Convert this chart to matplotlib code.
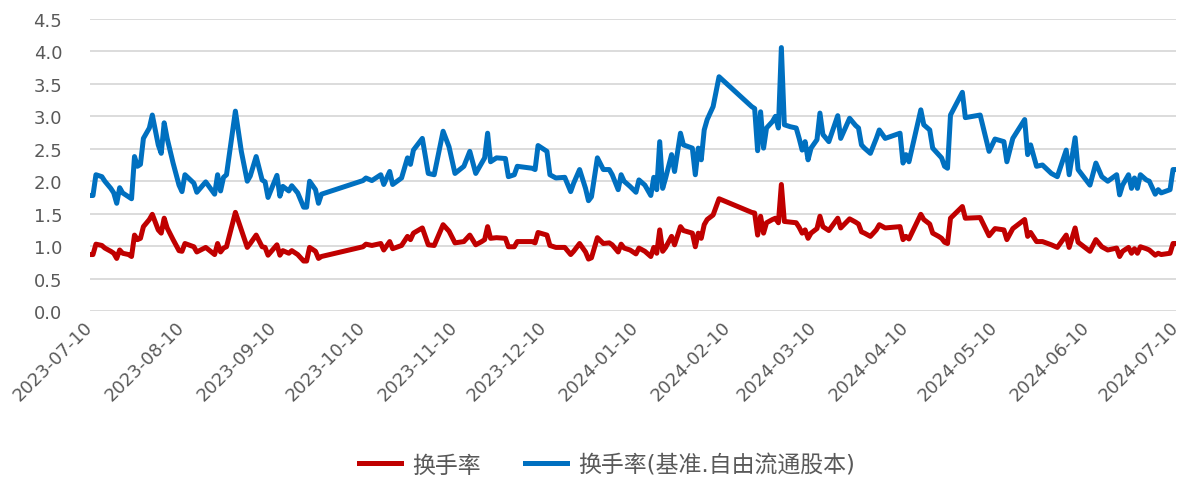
import matplotlib.pyplot as plt
import matplotlib.dates as mdates
import numpy as np
import pandas as pd
from matplotlib.ticker import FormatStrFormatter

# 交易日(只保留折线拐点)
dates = [
    '2023-07-10', '2023-07-11', '2023-07-12', '2023-07-14', '2023-07-15', '2023-07-17', '2023-07-18',
    '2023-07-19', '2023-07-20', '2023-07-21', '2023-07-23', '2023-07-24', '2023-07-25', '2023-07-26',
    '2023-07-27', '2023-07-28', '2023-07-30', '2023-07-31', '2023-08-02', '2023-08-03', '2023-08-04',
    '2023-08-05', '2023-08-07', '2023-08-09', '2023-08-10', '2023-08-11', '2023-08-14', '2023-08-15',
    '2023-08-18', '2023-08-21', '2023-08-22', '2023-08-23', '2023-08-24', '2023-08-25', '2023-08-28',
    '2023-08-30', '2023-09-01', '2023-09-02', '2023-09-04', '2023-09-06', '2023-09-07', '2023-09-08',
    '2023-09-11', '2023-09-12', '2023-09-13', '2023-09-15', '2023-09-16', '2023-09-18', '2023-09-20',
    '2023-09-21', '2023-09-22', '2023-09-24', '2023-09-25', '2023-09-26',
    '2023-10-10', '2023-10-11', '2023-10-13', '2023-10-16', '2023-10-17', '2023-10-19', '2023-10-20',
    '2023-10-23', '2023-10-25', '2023-10-26', '2023-10-27', '2023-10-30', '2023-11-01', '2023-11-03',
    '2023-11-06', '2023-11-08', '2023-11-10', '2023-11-13', '2023-11-15', '2023-11-17', '2023-11-19',
    '2023-11-20', '2023-11-21', '2023-11-22', '2023-11-24', '2023-11-27', '2023-11-28', '2023-11-30',
    '2023-12-01', '2023-12-06', '2023-12-07', '2023-12-08', '2023-12-11', '2023-12-12', '2023-12-14',
    '2023-12-17', '2023-12-19', '2023-12-20', '2023-12-22', '2023-12-24', '2023-12-25', '2023-12-26',
    '2023-12-28', '2023-12-30', '2024-01-01', '2024-01-02', '2024-01-04', '2024-01-05', '2024-01-06',
    '2024-01-08', '2024-01-10', '2024-01-11', '2024-01-13', '2024-01-15', '2024-01-16', '2024-01-17',
    '2024-01-18', '2024-01-19', '2024-01-20', '2024-01-22', '2024-01-23', '2024-01-25', '2024-01-26',
    '2024-01-29', '2024-01-30', '2024-01-31', '2024-02-01', '2024-02-02', '2024-02-03', '2024-02-05',
    '2024-02-07', '2024-02-18', '2024-02-19', '2024-02-20', '2024-02-21', '2024-02-22', '2024-02-23',
    '2024-02-25', '2024-02-26', '2024-02-27', '2024-02-28', '2024-02-29', '2024-03-02', '2024-03-04',
    '2024-03-05', '2024-03-06', '2024-03-07', '2024-03-08', '2024-03-09', '2024-03-11', '2024-03-12',
    '2024-03-13', '2024-03-15', '2024-03-18', '2024-03-19', '2024-03-22', '2024-03-24', '2024-03-25',
    '2024-03-26', '2024-03-27', '2024-03-29', '2024-03-31', '2024-04-01', '2024-04-03', '2024-04-08',
    '2024-04-09', '2024-04-10', '2024-04-11', '2024-04-15', '2024-04-16', '2024-04-18', '2024-04-19',
    '2024-04-21', '2024-04-22', '2024-04-23', '2024-04-24', '2024-04-25', '2024-04-29', '2024-04-30',
    '2024-05-05', '2024-05-08', '2024-05-10', '2024-05-13', '2024-05-14', '2024-05-16', '2024-05-20',
    '2024-05-21', '2024-05-22', '2024-05-24', '2024-05-26', '2024-05-29', '2024-05-31', '2024-06-03',
    '2024-06-04', '2024-06-06', '2024-06-07', '2024-06-11', '2024-06-13', '2024-06-15', '2024-06-17',
    '2024-06-20', '2024-06-21', '2024-06-22', '2024-06-24', '2024-06-25', '2024-06-26', '2024-06-27',
    '2024-06-28', '2024-06-30', '2024-07-01', '2024-07-03', '2024-07-04', '2024-07-05', '2024-07-08',
    '2024-07-09', '2024-07-10',
]

# 换手率
turnover = [
    0.87, 0.87, 1.03, 1.01, 0.97, 0.92, 0.89,
    0.81, 0.94, 0.89, 0.87, 0.84, 1.17, 1.10,
    1.12, 1.30, 1.41, 1.49, 1.25, 1.20, 1.43,
    1.28, 1.10, 0.93, 0.92, 1.04, 0.99, 0.91,
    0.98, 0.87, 1.04, 0.91, 0.97, 0.99, 1.52,
    1.25, 0.98, 1.04, 1.17, 0.99, 0.98, 0.86,
    1.02, 0.86, 0.93, 0.89, 0.93, 0.87, 0.77,
    0.77, 0.98, 0.92, 0.81, 0.84,
    0.99, 1.03, 1.01, 1.04, 0.94, 1.07, 0.96,
    1.01, 1.15, 1.10, 1.20, 1.28, 1.02, 1.01,
    1.33, 1.23, 1.05, 1.07, 1.17, 1.02, 1.07,
    1.10, 1.30, 1.12, 1.13, 1.12, 0.99, 0.99,
    1.07, 1.07, 1.05, 1.21, 1.17, 1.01, 0.98,
    0.98, 0.87, 0.92, 1.04, 0.91, 0.80, 0.82,
    1.13, 1.04, 1.05, 1.02, 0.91, 1.03, 0.97,
    0.94, 0.88, 0.97, 0.92, 0.84, 0.98, 0.89,
    1.25, 0.92, 0.98, 1.15, 1.02, 1.30, 1.24,
    1.20, 0.99, 1.20, 1.12, 1.33, 1.41, 1.48,
    1.73, 1.52, 1.51, 1.17, 1.46, 1.20, 1.36,
    1.41, 1.43, 1.36, 1.95, 1.38, 1.37, 1.36,
    1.29, 1.20, 1.25, 1.12, 1.20, 1.27, 1.46,
    1.30, 1.24, 1.43, 1.28, 1.42, 1.37, 1.34,
    1.22, 1.20, 1.15, 1.25, 1.33, 1.28, 1.30,
    1.10, 1.15, 1.11, 1.49, 1.41, 1.34, 1.20,
    1.15, 1.12, 1.06, 1.04, 1.43, 1.61, 1.43,
    1.44, 1.16, 1.27, 1.25, 1.10, 1.27, 1.41,
    1.15, 1.21, 1.07, 1.07, 1.02, 0.98, 1.17,
    0.98, 1.28, 1.06, 0.92, 1.10, 0.99, 0.94,
    0.97, 0.84, 0.92, 0.98, 0.89, 0.96, 0.89,
    0.99, 0.96, 0.94, 0.86, 0.89, 0.87, 0.89,
    1.04, 1.04,
]

# 换手率(基准.自由流通股本)
turnover_free = [
    1.78, 1.78, 2.10, 2.07, 2.00, 1.89, 1.82,
    1.66, 1.90, 1.82, 1.76, 1.73, 2.38, 2.23,
    2.26, 2.66, 2.82, 3.02, 2.56, 2.43, 2.90,
    2.66, 2.28, 1.94, 1.84, 2.10, 1.97, 1.83,
    1.99, 1.80, 2.10, 1.85, 2.06, 2.10, 3.08,
    2.46, 2.00, 2.08, 2.38, 2.02, 1.99, 1.75,
    2.09, 1.77, 1.92, 1.85, 1.93, 1.82, 1.60,
    1.60, 2.00, 1.87, 1.66, 1.80,
    2.01, 2.05, 2.01, 2.10, 1.95, 2.15, 1.95,
    2.05, 2.36, 2.26, 2.48, 2.66, 2.12, 2.10,
    2.77, 2.53, 2.12, 2.23, 2.46, 2.12, 2.28,
    2.36, 2.74, 2.30, 2.36, 2.35, 2.07, 2.10,
    2.23, 2.20, 2.18, 2.55, 2.46, 2.10, 2.05,
    2.06, 1.84, 1.97, 2.18, 1.89, 1.70, 1.76,
    2.36, 2.18, 2.18, 2.10, 1.87, 2.10, 2.00,
    1.92, 1.83, 2.02, 1.94, 1.78, 2.06, 1.87,
    2.61, 1.89, 2.05, 2.41, 2.15, 2.74, 2.56,
    2.51, 2.10, 2.51, 2.33, 2.79, 2.95, 3.15,
    3.61, 3.15, 3.12, 2.47, 3.07, 2.51, 2.82,
    2.92, 3.00, 2.82, 4.06, 2.87, 2.84, 2.82,
    2.66, 2.48, 2.61, 2.33, 2.51, 2.64, 3.05,
    2.72, 2.61, 3.01, 2.66, 2.97, 2.86, 2.82,
    2.56, 2.51, 2.43, 2.66, 2.79, 2.66, 2.74,
    2.28, 2.41, 2.30, 3.10, 2.87, 2.79, 2.51,
    2.41, 2.36, 2.23, 2.20, 3.02, 3.37, 2.98,
    3.02, 2.46, 2.65, 2.61, 2.30, 2.66, 2.95,
    2.41, 2.56, 2.23, 2.25, 2.12, 2.07, 2.48,
    2.10, 2.67, 2.18, 1.94, 2.28, 2.07, 2.00,
    2.10, 1.79, 1.94, 2.10, 1.89, 2.05, 1.89,
    2.10, 2.02, 2.00, 1.80, 1.87, 1.82, 1.87,
    2.18, 2.18,
]

plt.rcParams['font.family'] = ['DejaVu Sans', 'Noto Sans CJK SC']

fig = plt.figure(figsize=(11.84, 4.81), dpi=100)
ax = fig.add_axes([90 / 1184, 1 - 312 / 481, (1176 - 90) / 1184, (312 - 20) / 481])

d = pd.to_datetime(dates)
ax.plot(d, turnover, color='#C00000', lw=3.6, label='换手率', solid_joinstyle='round')
ax.plot(d, turnover_free, color='#0070C0', lw=3.6, label='换手率(基准.自由流通股本)', solid_joinstyle='round')

ax.set_ylim(0, 4.5)
ax.set_yticks(np.arange(0, 4.51, 0.5))
ax.yaxis.set_major_formatter(FormatStrFormatter('%.1f'))
ax.set_xlim(pd.Timestamp('2023-07-10'), pd.Timestamp('2024-07-10'))
ax.xaxis.set_major_locator(mdates.MonthLocator(bymonthday=10))
ax.xaxis.set_major_formatter(mdates.DateFormatter('%Y-%m-%d'))
plt.setp(ax.get_xticklabels(), rotation=45, ha='right', va='center', rotation_mode='anchor')

ax.grid(axis='y', color='#d9d9d9', lw=1.3)
ax.set_axisbelow(True)
for s in ax.spines.values():
    s.set_visible(False)
ax.tick_params(length=0, colors='#595959', labelsize=13)
ax.tick_params(axis='y', pad=20)
ax.tick_params(axis='x', pad=9)

fig.legend(loc='center', bbox_to_anchor=(607 / 1184, 1 - 466 / 481), ncol=2, frameon=False,
           fontsize=16.5, handlelength=1.85, handletextpad=0.5, columnspacing=1.9,
           labelcolor='#595959')

fig.savefig('out.png', dpi=100)
